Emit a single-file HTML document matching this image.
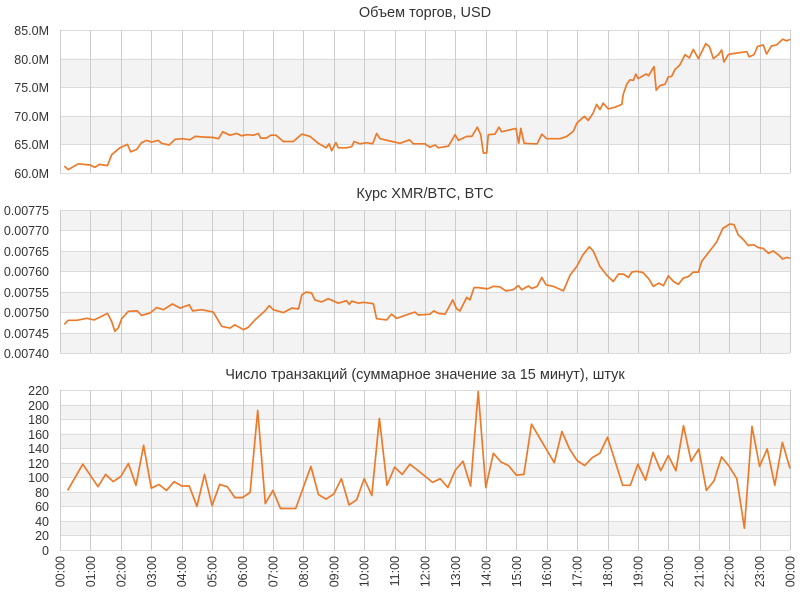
<!DOCTYPE html>
<html><head><meta charset="utf-8">
<style>
html,body{margin:0;padding:0;background:#fff;}
svg{display:block;font-family:"Liberation Sans","DejaVu Sans",sans-serif;}
</style></head>
<body>
<svg id="chart" width="800" height="600" viewBox="0 0 800 600" xmlns="http://www.w3.org/2000/svg"></svg>
<script>
// Panel 1: trading volume (hours, millions USD)
const volHours = [0.14,0.27,0.6,0.99,1.15,1.3,1.56,1.7,1.97,2.22,2.32,2.52,2.68,2.85,3.01,3.23,3.34,3.59,3.78,4.03,4.27,4.44,4.71,5.04,5.21,5.35,5.59,5.81,5.97,6.14,6.36,6.52,6.6,6.79,6.93,7.1,7.34,7.67,7.95,8.22,8.49,8.75,8.85,8.93,9.07,9.15,9.42,9.59,9.67,9.86,10.08,10.28,10.41,10.52,10.85,11.18,11.49,11.62,12.0,12.16,12.33,12.44,12.77,12.99,13.1,13.37,13.54,13.72,13.83,13.92,14.03,14.08,14.3,14.43,14.52,14.99,15.08,15.15,15.26,15.54,15.69,15.84,16.0,16.44,16.66,16.88,16.99,17.15,17.24,17.37,17.53,17.64,17.75,17.86,18.03,18.25,18.47,18.52,18.63,18.74,18.85,18.93,19.01,19.27,19.35,19.53,19.6,19.73,19.89,20.0,20.11,20.22,20.38,20.55,20.69,20.82,20.99,21.23,21.35,21.48,21.65,21.75,21.83,21.97,22.14,22.58,22.66,22.82,22.93,23.12,23.23,23.39,23.56,23.76,23.89,24.0];
const volValues = [61.2,60.6,61.6,61.4,61.0,61.5,61.3,63.2,64.4,65.0,63.7,64.1,65.3,65.7,65.4,65.7,65.2,64.9,65.9,66.0,65.8,66.4,66.3,66.2,66.0,67.2,66.6,66.9,66.5,66.7,66.6,66.9,66.1,66.1,66.6,66.6,65.5,65.5,66.8,66.4,65.2,64.4,65.1,63.9,65.3,64.4,64.4,64.6,65.5,65.1,65.3,65.1,66.9,66.0,65.6,65.2,65.8,65.1,65.1,64.5,64.9,64.4,64.7,66.7,65.7,66.4,66.4,68.0,66.7,63.5,63.5,66.7,66.8,68.0,67.2,67.8,65.2,67.8,65.2,65.1,65.1,66.8,66.0,66.0,66.4,67.3,68.7,69.5,69.9,69.2,70.5,72.0,71.1,72.2,71.2,71.5,72.0,73.8,75.5,76.3,76.2,77.3,76.5,77.3,77.0,78.6,74.5,75.3,75.5,76.8,76.9,78.1,78.9,80.7,80.1,81.6,80.0,82.6,82.1,80.0,80.7,81.5,79.4,80.7,80.9,81.2,80.3,80.7,82.1,82.4,80.8,82.2,82.4,83.4,83.1,83.4];
const volTicks = ["60.0M","65.0M","70.0M","75.0M","80.0M","85.0M"];
// Panel 2: XMR/BTC rate
const rateHours = [0.14,0.27,0.55,0.88,1.12,1.32,1.56,1.7,1.8,1.92,2.03,2.25,2.54,2.68,2.96,3.18,3.4,3.7,3.95,4.25,4.36,4.66,5.04,5.32,5.59,5.75,6.03,6.19,6.41,6.74,6.88,7.01,7.34,7.62,7.84,7.95,8.09,8.27,8.38,8.6,8.82,9.15,9.42,9.51,9.59,9.81,9.97,10.3,10.41,10.74,10.9,11.07,11.34,11.67,11.78,12.16,12.29,12.44,12.66,12.8,12.91,13.04,13.15,13.37,13.48,13.61,13.76,14.05,14.25,14.46,14.66,14.9,15.07,15.18,15.4,15.51,15.69,15.84,15.98,16.22,16.55,16.77,16.99,17.19,17.4,17.53,17.75,17.97,18.19,18.36,18.52,18.69,18.8,18.96,19.16,19.35,19.51,19.68,19.84,20.0,20.17,20.33,20.49,20.66,20.82,20.99,21.1,21.26,21.43,21.59,21.79,22.03,22.16,22.3,22.47,22.63,22.8,22.96,23.12,23.29,23.45,23.62,23.76,23.89,24.0];
const rateValues = [0.007470,0.007480,0.007480,0.007485,0.007481,0.007488,0.007497,0.007477,0.007453,0.007462,0.007484,0.007502,0.007503,0.007492,0.007498,0.007511,0.007506,0.007520,0.007510,0.007518,0.007503,0.007506,0.007500,0.007465,0.007461,0.007469,0.007457,0.007463,0.007481,0.007503,0.007516,0.007506,0.007499,0.007510,0.007508,0.007542,0.007549,0.007547,0.007530,0.007525,0.007533,0.007522,0.007528,0.007519,0.007527,0.007522,0.007524,0.007521,0.007484,0.007481,0.007495,0.007485,0.007492,0.007500,0.007493,0.007495,0.007503,0.007497,0.007495,0.007514,0.007530,0.007508,0.007503,0.007536,0.007530,0.007560,0.007560,0.007557,0.007563,0.007562,0.007552,0.007555,0.007565,0.007555,0.007564,0.007558,0.007563,0.007585,0.007567,0.007563,0.007552,0.007591,0.007612,0.007640,0.007660,0.007650,0.007612,0.007591,0.007575,0.007593,0.007593,0.007585,0.007598,0.007600,0.007597,0.007582,0.007563,0.007571,0.007565,0.007589,0.007575,0.007568,0.007583,0.007587,0.007598,0.007598,0.007625,0.007640,0.007656,0.007672,0.007705,0.007716,0.007714,0.007689,0.007677,0.007663,0.007665,0.007658,0.007656,0.007644,0.007650,0.007640,0.007630,0.007634,0.007632];
const rateTicks = ["0.00740","0.00745","0.00750","0.00755","0.00760","0.00765","0.00770","0.00775"];
// Panel 3: transactions per 15 minutes
const txHours = [0.25,0.75,1.25,1.5,1.75,2.0,2.25,2.5,2.75,3.0,3.25,3.5,3.75,4.0,4.25,4.5,4.75,5.0,5.25,5.5,5.75,6.0,6.25,6.5,6.75,7.0,7.25,7.75,8.25,8.5,8.75,9.0,9.25,9.5,9.75,10.0,10.25,10.5,10.75,11.0,11.25,11.5,11.75,12.25,12.5,12.75,13.0,13.25,13.5,13.75,14.0,14.25,14.5,14.75,15.0,15.25,15.5,16.25,16.5,16.75,17.0,17.25,17.5,17.75,18.0,18.5,18.75,19.0,19.25,19.5,19.75,20.0,20.25,20.5,20.75,21.0,21.25,21.5,21.75,22.0,22.25,22.5,22.75,23.0,23.25,23.5,23.75,24.0];
const txValues = [82,118,87,104,94,101,119,89,144,85,90,82,94,88,88,60,104,61,90,87,72,72,79,192,64,82,57,57,115,76,70,77,98,62,69,98,75,181,89,114,104,118,110,93,98,86,110,122,88,218,86,133,121,116,103,104,173,120,163,139,123,116,127,133,155,89,89,118,96,134,109,130,109,171,122,139,82,95,128,115,98,30,170,115,139,89,148,112];
const txTicks = ["0","20","40","60","80","100","120","140","160","180","200","220"];
const hourLabels = ["00:00","01:00","02:00","03:00","04:00","05:00","06:00","07:00","08:00","09:00","10:00","11:00","12:00","13:00","14:00","15:00","16:00","17:00","18:00","19:00","20:00","21:00","22:00","23:00","00:00"];

const svg = document.getElementById('chart');
const NS = 'http://www.w3.org/2000/svg';
const X0 = 60, X1 = 790;
function xScale(h){ return X0 + h/24*(X1-X0); }
function mk(tag, attrs, parent){
  const e = document.createElementNS(NS, tag);
  for (const k in attrs) e.setAttribute(k, attrs[k]);
  (parent||svg).appendChild(e);
  return e;
}

function panel(name, title, titleY, top, bottom, vmin, vmax, ticks, tickVals, bandOdd, hours, values){
  const g = mk('g', {});
  
  
  const y = v => bottom - (v - vmin)/(vmax - vmin)*(bottom - top);
  for (let i = 0; i < tickVals.length - 1; i++){
    if (i % 2 === bandOdd){
      const r = mk('rect', {x:X0, y:y(tickVals[i+1]), width:X1-X0, height:y(tickVals[i])-y(tickVals[i+1]), fill:'#f3f3f3'}, g);
      
      
    }
  }
  for (let i = 0; i < tickVals.length; i++){
    const yy = Math.round(y(tickVals[i])) + 0.5;
    const l = mk('line', {x1:X0, x2:X1, y1:yy, y2:yy, stroke:'#dcdcdc', 'stroke-width':1}, g);
    
    
    const t = mk('text', {x:49, y:yy+4.5, 'text-anchor':'end', 'font-size':12.5, fill:'#333'}, g);
    t.textContent = ticks[i];
    
    
  }
  for (let h = 0; h <= 24; h++){
    const xx = Math.round(xScale(h)) + 0.5;
    const l = mk('line', {x1:xx, x2:xx, y1:top, y2:bottom, stroke:'#cccccc', 'stroke-width':1}, g);
    
    
  }
  const tt = mk('text', {x:425, y:titleY, 'text-anchor':'middle', 'font-size':14.5, fill:'#333'}, g);
  tt.textContent = title;
  
  
  let d = '';
  for (let i = 0; i < hours.length; i++){
    d += (i ? 'L' : 'M') + xScale(hours[i]).toFixed(1) + ',' + y(values[i]).toFixed(1);
  }
  const p = mk('path', {d:d, fill:'none', stroke:'#ec7a2b', 'stroke-width':1.7, 'stroke-linejoin':'round'}, g);
  
  
}

panel('volume', 'Объем торгов, USD', 17, 30, 173, 60, 85, volTicks, [60,65,70,75,80,85], 1, volHours, volValues);
panel('rate', 'Курс XMR/BTC, BTC', 198, 210, 353, 0.0074, 0.00775, rateTicks, [0.0074,0.00745,0.0075,0.00755,0.0076,0.00765,0.0077,0.00775], 0, rateHours, rateValues);
panel('transactions', 'Число транзакций (суммарное значение за 15 минут), штук', 379, 390, 550, 0, 220, txTicks, [0,20,40,60,80,100,120,140,160,180,200,220], 1, txHours, txValues);

for (let h = 0; h <= 24; h++){
  const xx = xScale(h);
  const t = mk('text', {x:0, y:0, 'text-anchor':'end', 'font-size':12.5, fill:'#333', transform:'translate(' + (xx+4.5) + ',556) rotate(-90)'});
  t.textContent = hourLabels[h];
  
  
}
</script>
</body></html>
